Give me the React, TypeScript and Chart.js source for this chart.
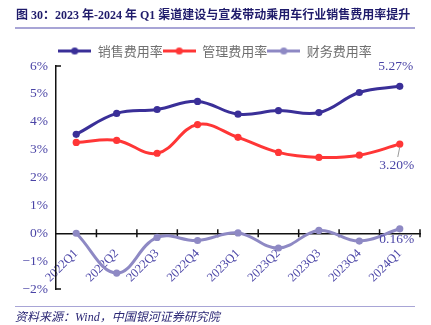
import React, { useEffect, useRef } from "react";
import { Chart, registerables } from "chart.js";
Chart.register(...registerables);

const categories = ["2022Q1", "2022Q2", "2022Q3", "2022Q4", "2023Q1", "2023Q2", "2023Q3", "2023Q4", "2024Q1"];
const salesRate = [3.55, 4.3, 4.44, 4.73, 4.27, 4.4, 4.33, 5.05, 5.27];
const adminRate = [3.26, 3.33, 2.87, 3.9, 3.44, 2.9, 2.72, 2.8, 3.2];
const financeRate = [0.0, -1.43, -0.15, -0.26, 0.01, -0.53, 0.1, -0.28, 0.16];
const seriesNames = ["销售费用率", "管理费用率", "财务费用率"];
const seriesColors = ["#3a2f98", "#ff3636", "#8e89c4"];
const lastLabels = ["5.27%", "3.20%", "0.16%"];
const yMin = -2;
const yMax = 6;
const titleText = "图 30：2023 年-2024 年 Q1 渠道建设与宣发带动乘用车行业销售费用率提升";
const sourceText = "资料来源：Wind，中国银河证券研究院";

const SERIF = "'Liberation Serif', 'Noto Sans CJK SC', serif";
const LABEL_COLOR = "#4a44a6";

function makeIcon(color: string) {
  const c = document.createElement("canvas");
  c.width = 33;
  c.height = 9;
  const g = c.getContext("2d")!;
  g.strokeStyle = color;
  g.lineWidth = 3;
  g.beginPath();
  g.moveTo(0, 4.5);
  g.lineTo(33, 4.5);
  g.stroke();
  g.fillStyle = color;
  g.beginPath();
  g.arc(16.5, 4.5, 3.6, 0, Math.PI * 2);
  g.fill();
  return c;
}

const extras = {
  id: "extras",
  beforeDatasetsDraw(chart: any) {
    const { ctx, scales } = chart;
    const x = scales.x;
    const y = scales.y;
    const y0 = y.getPixelForValue(0);
    const half = (x.getPixelForValue(1) - x.getPixelForValue(0)) / 2;
    ctx.save();
    ctx.strokeStyle = "#111";
    ctx.lineWidth = 1.5;
    ctx.beginPath();
    for (let i = 0; i < categories.length; i++) {
      const px = x.getPixelForValue(i) + half;
      ctx.moveTo(px, y0 - 4);
      ctx.lineTo(px, y0 + 4);
    }
    const left = chart.chartArea.left;
    ctx.moveTo(left, y.getPixelForValue(yMax));
    ctx.lineTo(left + 5, y.getPixelForValue(yMax));
    ctx.moveTo(left, y.getPixelForValue(yMin));
    ctx.lineTo(left + 5, y.getPixelForValue(yMin));
    ctx.stroke();
    ctx.restore();
  },
  afterDatasetsDraw(chart: any) {
    const { ctx } = chart;
    ctx.save();
    ctx.font = `13.5px ${SERIF}`;
    ctx.fillStyle = LABEL_COLOR;
    ctx.textAlign = "center";
    ctx.textBaseline = "middle";
    const offs = [
      [-4, -20],
      [-3, 21],
      [-3, 11],
    ];
    for (let d = 0; d < 3; d++) {
      const meta = chart.getDatasetMeta(d);
      const pt = meta.data[meta.data.length - 1];
      ctx.fillText(lastLabels[d], pt.x + offs[d][0], pt.y + offs[d][1]);
      if (d === 1) {
        ctx.strokeStyle = "#999";
        ctx.lineWidth = 1;
        ctx.beginPath();
        ctx.moveTo(pt.x, pt.y + 3);
        ctx.lineTo(pt.x - 2, pt.y + 13);
        ctx.stroke();
      }
    }
    ctx.restore();
  },
};

export default function App() {
  const ref = useRef<HTMLCanvasElement>(null);
  useEffect(() => {
    const icons = seriesColors.map(makeIcon);
    const series = [salesRate, adminRate, financeRate];
    const chart = new Chart(ref.current!, {
      type: "line",
      data: {
        labels: categories,
        datasets: series.map((data, i) => ({
          label: seriesNames[i],
          data,
          borderColor: seriesColors[i],
          backgroundColor: seriesColors[i],
          pointBackgroundColor: seriesColors[i],
          pointBorderColor: seriesColors[i],
          pointRadius: 3.6,
          pointBorderWidth: 0,
          borderWidth: 3,
          tension: 0.4,
          fill: false,
        })),
      },
      options: {
        responsive: false,
        animation: false,
        layout: { padding: { top: 44.5, right: 11, bottom: 36, left: 10 } },
        plugins: {
          tooltip: { enabled: false },
          legend: {
            position: "top",
            maxHeight: 21.5,
            labels: {
              usePointStyle: true,
              pointStyleWidth: 33,
              padding: 0,
              color: "#707070",
              font: { size: 13, family: "'Noto Sans CJK SC', sans-serif" },
              generateLabels: (c: any) =>
                c.data.datasets.map((ds: any, i: number) => ({
                  text: ds.label,
                  pointStyle: icons[i],
                  fillStyle: seriesColors[i],
                  strokeStyle: seriesColors[i],
                  lineWidth: 0,
                  hidden: false,
                  datasetIndex: i,
                  fontColor: "#707070",
                })),
            },
          },
        },
        scales: {
          x: {
            type: "category",
            offset: true,
            position: { y: 0 } as any,
            grid: { display: false, drawTicks: false },
            border: { display: true, color: "#111", width: 1.5 },
            ticks: {
              autoSkip: false,
              minRotation: 45,
              maxRotation: 45,
              padding: 13,
              color: LABEL_COLOR,
              font: { size: 12.5, family: SERIF },
            },
            afterFit: (s: any) => {
              s.height = 0;
            },
          },
          y: {
            min: yMin,
            max: yMax,
            grid: { display: false, drawTicks: false },
            border: { display: true, color: "#111", width: 1.5 },
            ticks: {
              stepSize: 1,
              padding: 8,
              color: LABEL_COLOR,
              font: { size: 13.5, family: SERIF },
              callback: (v: any) => (v < 0 ? "\u2212" + Math.abs(v) + "%" : v + "%"),
            },
            afterFit: (s: any) => {
              s.width = 46;
            },
          },
        },
      },
      plugins: [extras],
    });
    return () => chart.destroy();
  }, []);

  return (
    <div style={{ position: "fixed", left: 0, top: 0, width: 431, height: 325, background: "#fff", overflow: "hidden" }}>
      <canvas ref={ref} width={431} height={325} style={{ position: "absolute", left: 0, top: 0, width: 431, height: 325 }} />
      <div
        style={{
          position: "absolute",
          left: 16,
          top: 7,
          whiteSpace: "nowrap",
          fontFamily: SERIF,
          fontWeight: "bold",
          fontSize: 12,
          lineHeight: "16px",
          color: "#1f1b6b",
        }}
      >
        {titleText}
      </div>
      <div style={{ position: "absolute", left: 15, top: 27, width: 400, height: 1.5, background: "#a8a5d6" }} />
      <div style={{ position: "absolute", left: 15, top: 306, width: 400, height: 1, background: "#a8a5d6" }} />
      <div
        style={{
          position: "absolute",
          left: 15,
          top: 310,
          whiteSpace: "nowrap",
          fontFamily: SERIF,
          fontStyle: "italic",
          fontSize: 12,
          lineHeight: "15px",
          color: "#2b2775",
        }}
      >
        {sourceText}
      </div>
    </div>
  );
}
